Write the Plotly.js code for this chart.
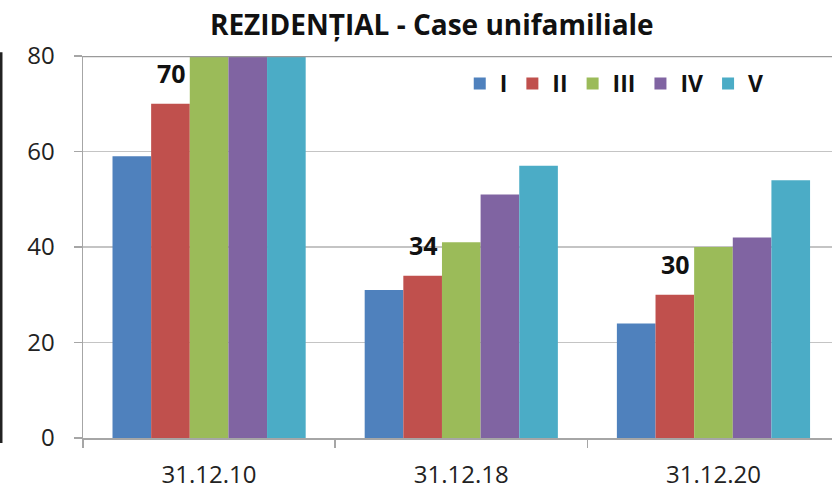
<!DOCTYPE html>
<html>
<head>
<meta charset="utf-8">
<script src="https://cdn.plot.ly/plotly-3.0.1.min.js"></script>
<style>html,body{margin:0;padding:0;background:#fff;}#chart{width:832px;height:492px;}</style>
</head>
<body>
<div id="chart"></div>
<script>
// ---- data ----
const categories = ["31.12.10", "31.12.18", "31.12.20"];
const seriesNames = ["I", "II", "III", "IV", "V"];
const valsI   = [59, 31, 24];
const valsII  = [70, 34, 30];
const valsIII = [84, 41, 40];
const valsIV  = [89, 51, 42];
const valsV   = [91, 57, 54];
const labeledSeries = valsII;          // values shown as data labels
const yTicks = [0, 20, 40, 60, 80];

const colors = ["#4F81BD", "#C0504D", "#9BBB59", "#8064A2", "#4BACC6"];
const allVals = [valsI, valsII, valsIII, valsIV, valsV];
const FONT = "'Open Sans', 'Noto Sans', sans-serif";

const traces = allVals.map((v, i) => ({
  type: "bar",
  name: seriesNames[i],
  x: categories,
  y: v,
  marker: {color: colors[i], line: {width: 0}},
  hoverinfo: "none"
}));

const annotations = categories.map((c, i) => ({
  x: c, y: labeledSeries[i], xref: "x", yref: "y",
  text: String(labeledSeries[i]),
  showarrow: false, xanchor: "center", yanchor: "bottom",
  xshift: -38, yshift: 12,
  font: {family: FONT, size: 25, color: "#111", weight: "bold"}
}));

const layout = {
  width: 832, height: 492,
  margin: {l: 83, r: 0, t: 56, b: 54},
  paper_bgcolor: "#fff", plot_bgcolor: "#fff",
  barmode: "group", bargap: 0.234, bargroupgap: 0,
  title: {
    text: "<b>REZIDENȚIAL - Case unifamiliale</b>",
    font: {family: FONT, size: 28, color: "#111"},
    xref: "container", x: 0.519, xanchor: "center",
    yref: "container", y: 1 - 25/492, yanchor: "middle"
  },
  xaxis: {
    type: "category",
    range: [-0.5, 2.47],
    showline: true, linecolor: "#a6a6a6", linewidth: 1.5,
    ticks: "outside", tickson: "boundaries", ticklen: 8, tickcolor: "#a6a6a6", tickwidth: 1.5,
    ticklabelstandoff: 15,
    tickfont: {family: FONT, size: 24, color: "#222"},
    showgrid: false, zeroline: false, fixedrange: true
  },
  yaxis: {
    range: [0, 80],
    tickvals: yTicks,
    showline: true, linecolor: "#a6a6a6", linewidth: 1.5,
    ticks: "outside", ticklen: 8, tickcolor: "#a6a6a6", tickwidth: 1.5,
    ticklabelstandoff: 14,
    tickfont: {family: FONT, size: 24, color: "#222"},
    showgrid: true, gridcolor: "#c4c4c4", gridwidth: 1.5,
    zeroline: false, fixedrange: true
  },
  legend: {
    orientation: "h",
    x: 0.503, xanchor: "left",
    y: 0.928, yanchor: "middle",
    font: {family: FONT, size: 23, color: "#111", weight: "bold"},
    bgcolor: "rgba(0,0,0,0)",
    traceorder: "normal"
  },
  annotations: annotations,
  shapes: [
    {type: "line", xref: "paper", yref: "y", x0: 0, x1: 1, y0: 80, y1: 80,
     line: {color: "#9a9a9a", width: 2.5}},
    {type: "line", xref: "paper", yref: "paper",
     x0: -0.1095, x1: -0.1095, y0: 1.01, y1: -0.013,
     line: {color: "#222", width: 3}}
  ]
};

Plotly.newPlot("chart", traces, layout, {displayModeBar: false, staticPlot: true});
</script>
</body>
</html>
